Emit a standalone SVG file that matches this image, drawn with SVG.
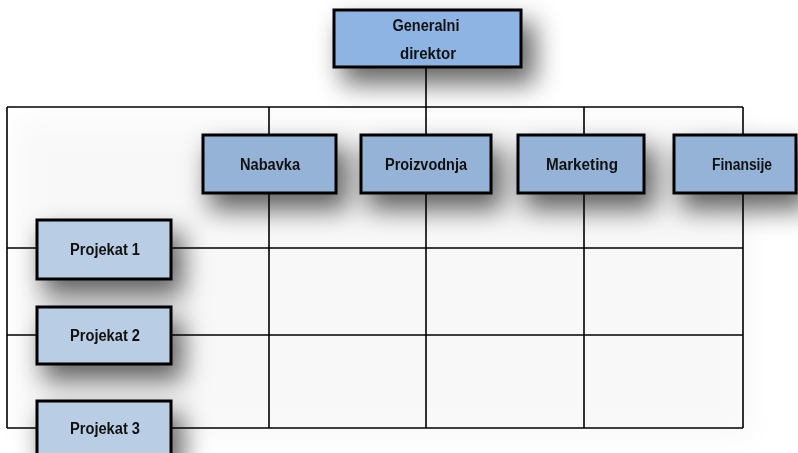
<svg xmlns="http://www.w3.org/2000/svg" width="798" height="453" viewBox="0 0 798 453">
  <defs>
    <filter id="soft-shadow" x="-50%" y="-70%" width="200%" height="240%">
      <feGaussianBlur stdDeviation="13"/>
    </filter>
    <filter id="haze" x="-10%" y="-10%" width="120%" height="130%">
      <feGaussianBlur stdDeviation="14"/>
    </filter>
  </defs>
  <style>
    .shadow { fill: #000; opacity: 0.6; }
    .line { stroke: #000; stroke-width: 1.6; fill: none; }
    .box { stroke: #000; stroke-width: 3; }
    .top { fill: #8EB4E3; }
    .dept { fill: #95B3D7; }
    .proj { fill: #B9CDE5; }
    .label { font-family: "Liberation Sans", Arial, sans-serif; font-weight: bold; font-size: 16px; fill: #111; text-anchor: middle; }
  </style>

  <rect width="798" height="453" fill="#ffffff"/>

  <!-- faint haze under the grid -->
  <rect x="14" y="118" width="740" height="322" fill="#000" opacity="0.025" filter="url(#haze)"/>

  <!-- soft drop shadows under every box -->
  <g id="shadows" filter="url(#soft-shadow)">
    <rect class="shadow" x="342" y="22" width="193" height="62"/>
    <rect class="shadow" x="209" y="147" width="139" height="63"/>
    <rect class="shadow" x="367" y="147" width="136" height="63"/>
    <rect class="shadow" x="524" y="147" width="132" height="63"/>
    <rect class="shadow" x="680" y="147" width="128" height="63"/>
    <rect class="shadow" x="43" y="232" width="140" height="64"/>
    <rect class="shadow" x="43" y="319" width="140" height="62"/>
    <rect class="shadow" x="43" y="413" width="140" height="62"/>
  </g>

  <!-- connector grid -->
  <g id="connectors" class="line">
    <line x1="426" y1="67" x2="426" y2="107"/>
    <line x1="7" y1="107" x2="743" y2="107"/>
    <line x1="7" y1="107" x2="7" y2="428"/>
    <line x1="269" y1="107" x2="269" y2="428"/>
    <line x1="426" y1="107" x2="426" y2="428"/>
    <line x1="584" y1="107" x2="584" y2="428"/>
    <line x1="743" y1="107" x2="743" y2="428"/>
    <line x1="7" y1="248" x2="743" y2="248"/>
    <line x1="7" y1="335" x2="743" y2="335"/>
    <line x1="7" y1="428" x2="743" y2="428"/>
  </g>

  <g id="generalni-direktor">
    <rect class="box top" x="334" y="10" width="187" height="57"/>
    <text class="label" x="426" y="31" textLength="67" lengthAdjust="spacingAndGlyphs">Generalni</text>
    <text class="label" x="428" y="59" textLength="56" lengthAdjust="spacingAndGlyphs">direktor</text>
  </g>

  <g id="nabavka">
    <rect class="box dept" x="203" y="135" width="133" height="58"/>
    <text class="label" x="270" y="170" textLength="60" lengthAdjust="spacingAndGlyphs">Nabavka</text>
  </g>

  <g id="proizvodnja">
    <rect class="box dept" x="361" y="135" width="130" height="58"/>
    <text class="label" x="426" y="170" textLength="82" lengthAdjust="spacingAndGlyphs">Proizvodnja</text>
  </g>

  <g id="marketing">
    <rect class="box dept" x="518" y="135" width="126" height="58"/>
    <text class="label" x="582" y="170" textLength="72" lengthAdjust="spacingAndGlyphs">Marketing</text>
  </g>

  <g id="finansije">
    <rect class="box dept" x="674" y="135" width="122" height="58"/>
    <text class="label" x="742" y="170" textLength="60" lengthAdjust="spacingAndGlyphs">Finansije</text>
  </g>

  <g id="projekat-1">
    <rect class="box proj" x="37" y="220" width="134" height="59"/>
    <text class="label" x="105" y="255" textLength="70" lengthAdjust="spacingAndGlyphs">Projekat 1</text>
  </g>

  <g id="projekat-2">
    <rect class="box proj" x="37" y="307" width="134" height="57"/>
    <text class="label" x="105" y="341" textLength="70" lengthAdjust="spacingAndGlyphs">Projekat 2</text>
  </g>

  <g id="projekat-3">
    <rect class="box proj" x="37" y="401" width="134" height="57"/>
    <text class="label" x="105" y="434" textLength="70" lengthAdjust="spacingAndGlyphs">Projekat 3</text>
  </g>
</svg>
